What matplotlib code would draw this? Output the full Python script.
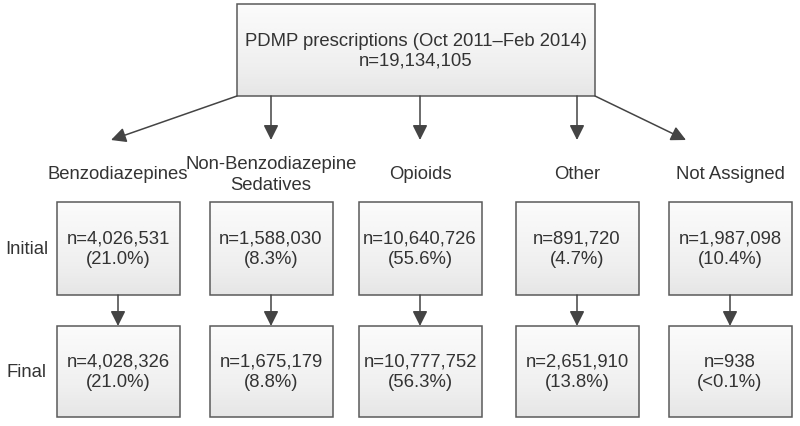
import numpy as np
import matplotlib.pyplot as plt
from matplotlib.patches import Rectangle

plt.rcParams['font.family'] = ['Liberation Sans', 'DejaVu Sans']

# data
top_title = "PDMP prescriptions (Oct 2011\u2013Feb 2014)"
top_n = "n=19,134,105"
categories = ["Benzodiazepines", "Non-Benzodiazepine\nSedatives", "Opioids",
              "Other", "Not Assigned"]
initial_n = ["4,026,531", "1,588,030", "10,640,726", "891,720", "1,987,098"]
initial_pct = ["21.0%", "8.3%", "55.6%", "4.7%", "10.4%"]
final_n = ["4,028,326", "1,675,179", "10,777,752", "2,651,910", "938"]
final_pct = ["21.0%", "8.8%", "56.3%", "13.8%", "<0.1%"]
row_labels = ["Initial", "Final"]

# layout in pixel units
W, H = 800, 427
col_x = [118, 271, 420, 577, 730]
box_w = 123
ini_y = (203, 296)
fin_y = (327, 418)
top_box = (237, 595, 5, 97)
txt_col = "#333333"
line_col = "#444444"
fs = 13.3

fig = plt.figure(figsize=(8, 4.27), dpi=100)
ax = fig.add_axes([0, 0, 1, 1])
ax.set_xlim(0, W)
ax.set_ylim(H, 0)
ax.axis("off")

grad = np.linspace(0, 1, 64).reshape(-1, 1)


def box(x0, x1, y0, y1):
    im = ax.imshow(grad, extent=(x0, x1, y1, y0), cmap="Greys",
                   vmin=-0.2, vmax=6.5, aspect="auto", zorder=1)
    r = Rectangle((x0, y0), x1 - x0, y1 - y0, fill=False,
                  edgecolor="#5a5a5a", lw=1.1, zorder=2)
    ax.add_patch(r)
    im.set_clip_path(r)


def arrow(x0, y0, x1, y1):
    ax.annotate("", xy=(x1, y1), xytext=(x0, y0),
                arrowprops=dict(arrowstyle="-|>,head_length=0.9,head_width=0.45",
                                color=line_col, lw=1.1, shrinkA=0, shrinkB=0,
                                mutation_scale=10), zorder=3)


# top box
x0, x1, y0, y1 = top_box
box(x0, x1, y0, y1)
cx = (x0 + x1) / 2
ax.text(cx, 41, top_title, ha="center", va="center", fontsize=fs, color=txt_col)
ax.text(cx, 61, top_n, ha="center", va="center", fontsize=fs, color=txt_col)

# arrows from top box to categories
arrow(x0, y1, 111, 141)
for c in col_x[1:4]:
    arrow(c, y1, c, 141)
arrow(x1, y1, 686, 141)

# category labels
for i, c in enumerate(col_x):
    ax.text(c, 175, categories[i], ha="center", va="center", fontsize=fs,
            color=txt_col, linespacing=1.25)

# row labels
ax.text(27, sum(ini_y) / 2, row_labels[0], ha="center", va="center",
        fontsize=fs, color=txt_col)
ax.text(27, sum(fin_y) / 2, row_labels[1], ha="center", va="center",
        fontsize=fs, color=txt_col)

# initial and final boxes
for i, c in enumerate(col_x):
    bx0, bx1 = c - box_w / 2, c + box_w / 2
    box(bx0, bx1, *ini_y)
    box(bx0, bx1, *fin_y)
    ym = sum(ini_y) / 2
    ax.text(c, ym - 10, "n=" + initial_n[i], ha="center", va="center",
            fontsize=fs, color=txt_col)
    ax.text(c, ym + 10, "(" + initial_pct[i] + ")", ha="center", va="center",
            fontsize=fs, color=txt_col)
    ym = sum(fin_y) / 2
    ax.text(c, ym - 10, "n=" + final_n[i], ha="center", va="center",
            fontsize=fs, color=txt_col)
    ax.text(c, ym + 10, "(" + final_pct[i] + ")", ha="center", va="center",
            fontsize=fs, color=txt_col)
    arrow(c, ini_y[1], c, fin_y[0])

fig.savefig("out.png", dpi=100, facecolor="white")
